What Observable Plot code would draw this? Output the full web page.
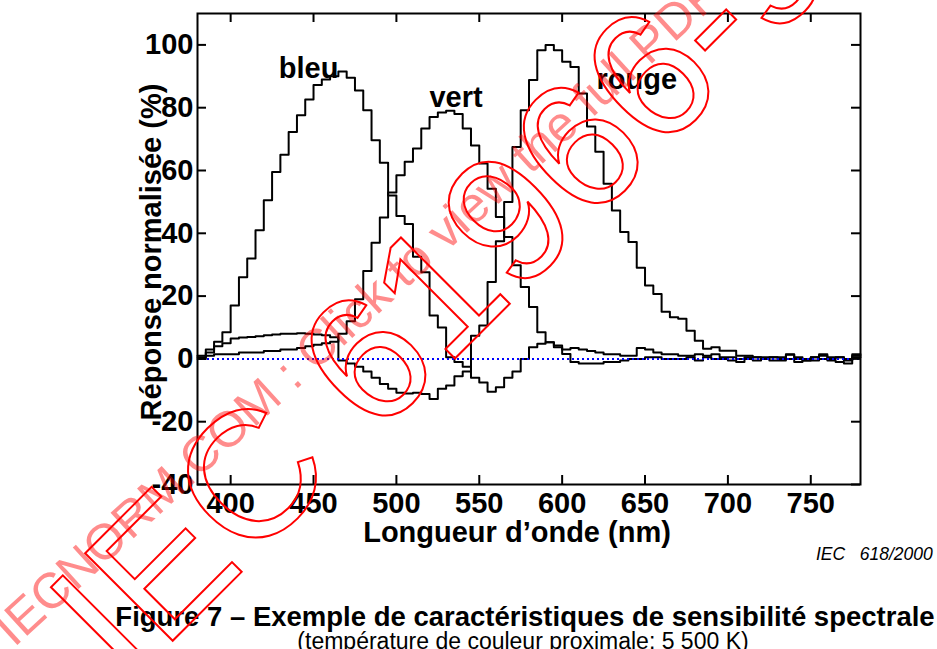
<!DOCTYPE html>
<html>
<head>
<meta charset="utf-8">
<script src="https://cdn.jsdelivr.net/npm/d3@7"></script>
<script src="https://cdn.jsdelivr.net/npm/@observablehq/plot@0.6"></script>
<style>
  html, body { margin: 0; padding: 0; background: #fff; }
  body { width: 937px; height: 649px; overflow: hidden; position: relative; font-family: "Liberation Sans", Arial, sans-serif; color: #000; }
  #chart { position: absolute; left: 0; top: 0; }
  .iec { position: absolute; left: 816px; top: 544px; font-size: 17.5px; font-style: italic; white-space: pre; line-height: 20px; }
  .cap1 { position: absolute; left: 525px; top: 603px; transform: translateX(-50%); font-size: 27.5px; font-weight: bold; white-space: nowrap; line-height: 28px; }
  .cap2 { position: absolute; left: 523px; top: 629px; transform: translateX(-50%); font-size: 23px; white-space: nowrap; line-height: 24px; }
  #wm { position: absolute; left: 0; top: 0; pointer-events: none; }
</style>
</head>
<body>
<div id="chart"></div>
<div class="iec">IEC   618/2000</div>
<div class="cap1">Figure 7 – Exemple de caractéristiques de sensibilité spectrale</div>
<div class="cap2">(température de couleur proximale: 5 500 K)</div>
<svg id="wm" width="937" height="649"></svg>
<script>
// ---- data (5 nm bins starting at each wavelength) ----
const binStarts = d3.range(380, 780, 5);   // 380 ... 775
const binEnd = 780;

const bleu = [
  0.5, 3, 5.5, 8.5, 17, 26, 32, 41, 50.5, 59.5,
  65, 72.3, 77.6, 82.6, 87.2, 89, 90, 91.5, 89.5, 85.5,
  79.2, 69.6, 62.5, 52, 45.5, 43, 32.5, 27.6, 13.8, 10,
  0.5, -1, -2.5, -6, -7.5, -10.5, -9, -6, -4, 0,
  3.7, 4.8, 5.3, 3.7, 1.6, -1, -1.5, -1.5, -1.5, -1,
  -1, -0.5, 0, 0, 0.5, 0.5, 0, 0, 0, 0.5,
  -0.5, 0.5, 0, 0, -0.5, -1, 0, -0.5, 0, -0.5,
  -0.5, 0, -1, -0.5, -0.5, 0, -0.5, -1, -1.5, 0.5
];
const vert = [
  1, 1, 1.5, 1.5, 1.5, 2, 2, 2, 2.5, 2.5,
  3, 3, 3.5, 4, 4.5, 5, 5.5, 8, 12, 19,
  28, 37, 45, 53, 58.5, 62.8, 67, 73.4, 77, 78.5,
  79, 78, 73.4, 68, 62.2, 54.2, 45.2, 38.8, 29.8, 22.9,
  16.5, 8.5, 5.3, 4.3, 3, 3.5, 3, 2.5, 2, 1.5,
  1.5, 1, 1, 3.5, 3, 2, 1.5, 1.5, 1, 1,
  1.5, 1, 1.5, 0.5, 0.5, 0, 0.5, 0.5, 0, 0.5,
  0.5, 1.5, 0, -0.5, 0.5, 1, 0, 0.5, -0.5, 1
];
const rouge = [
  0, 2, 4, 5, 6.5, 6.8, 7, 7.2, 7.5, 7.8,
  8, 8, 8.2, 8, 7.8, 7.5, 6.9, -0.5, -1.5, -2.5,
  -4, -6, -8, -9.5, -10.8, -11, -10.8, -11.2, -12.8, -9.5,
  -8.5, -5.5, -4, 7.4, 10.6, 24.5, 37.5, 50, 67.5, 79.2,
  88.8, 98.3, 100, 98.3, 94.6, 93, 84.5, 74, 66, 55.8,
  47.3, 40.4, 37.2, 29, 23.4, 20.7, 15, 13.3, 12.8, 9,
  5.8, 3.2, 3.7, 2.6, 2.6, 1, 1, 0.5, 0.5, 0.5,
  0, 1.3, 0.5, 0, 0.5, 1.5, 0.5, 0.5, 0, 1.5
];

const seriesNames = ["bleu", "vert", "rouge"];
const seriesValues = [bleu, vert, rouge];
const labelNm = [447, 536, 645];
const labelVal = [89.4, 80.2, 85.9];

const xTicks = [400, 450, 500, 550, 600, 650, 700, 750];
const yTicks = [-40, -20, 0, 20, 40, 60, 80, 100];
const xTitle = "Longueur d’onde (nm)";
const yTitle = "Réponse normalisée (%)";

// ---- build table ----
const rows = [];
seriesNames.forEach((s, i) => {
  const vals = seriesValues[i];
  binStarts.forEach((nm, j) => rows.push({s, nm, v: vals[j]}));
  rows.push({s, nm: binEnd, v: vals[vals.length - 1]});
});
const labels = seriesNames.map((s, i) => ({s, nm: labelNm[i], v: labelVal[i]}));

const W = 937, H = 545;
const mL = 197, mR = 77, mT = 13, mB = 61;
const frameW = W - mL - mR, frameH = H - mT - mB;
const tickLen = 9;

const chart = Plot.plot({
  width: W, height: H,
  marginLeft: mL, marginRight: mR, marginTop: mT, marginBottom: mB,
  x: {domain: [380, 780]},
  y: {domain: [-40, 110]},
  style: {fontFamily: "Liberation Sans, Arial, sans-serif", fontWeight: "bold", fontSize: "29px", color: "black", background: "white", overflow: "visible"},
  marks: [
    Plot.line(rows, {x: "nm", y: "v", z: "s", curve: "step-after", stroke: "black", strokeWidth: 2}),
    Plot.ruleY([0], {stroke: "#0000ff", strokeWidth: 2, strokeDasharray: "2,3"}),
    // inward ticks on all four sides
    Plot.tickX(xTicks, {x: d => d, insetTop: frameH - tickLen, stroke: "black", strokeWidth: 2}),
    Plot.tickX(xTicks, {x: d => d, insetBottom: frameH - tickLen, stroke: "black", strokeWidth: 2}),
    Plot.tickY(yTicks, {y: d => d, insetRight: frameW - tickLen, stroke: "black", strokeWidth: 2}),
    Plot.tickY(yTicks, {y: d => d, insetLeft: frameW - tickLen, stroke: "black", strokeWidth: 2}),
    Plot.axisX(xTicks, {tickSize: 0, tickPadding: 8, label: null, tickFormat: d => String(d)}),
    Plot.axisY(yTicks, {tickSize: 0, tickPadding: 4, label: null, tickFormat: d => String(d)}),
    Plot.text([xTitle], {frameAnchor: "bottom", dx: -12, dy: 57, lineAnchor: "bottom", textAnchor: "middle", text: d => d, fontSize: 29, fontWeight: "bold"}),
    Plot.text([yTitle], {frameAnchor: "left", dx: -37, dy: 3, rotate: -90, lineAnchor: "bottom", textAnchor: "middle", text: d => d, fontSize: 29, fontWeight: "bold"}),
    Plot.text(labels, {x: "nm", y: "v", text: "s", lineAnchor: "bottom", fontSize: 29, fontWeight: "bold"}),
    Plot.frame({stroke: "black", strokeWidth: 2})
  ]
});
document.getElementById("chart").appendChild(chart);

// ---- watermark overlay ----
const wm = d3.select("#wm");
wm.append("text")
  .attr("transform", "translate(440,285) rotate(-45)")
  .attr("text-anchor", "middle")
  .attr("dominant-baseline", "central")
  .attr("font-family", "Liberation Sans, Arial, sans-serif")
  .attr("font-size", 180)
  .attr("fill", "none")
  .attr("stroke", "#ff0000")
  .attr("stroke-width", 2)
  .text("IEC 61966-9");
wm.append("text")
  .attr("transform", "translate(14,648) rotate(-42.5)")
  .attr("font-family", "Liberation Sans, Arial, sans-serif")
  .attr("font-size", 50)
  .attr("fill", "rgba(255,0,0,0.45)")
  .text("IECNORM.COM : Click to view the full PDF");
</script>
</body>
</html>
